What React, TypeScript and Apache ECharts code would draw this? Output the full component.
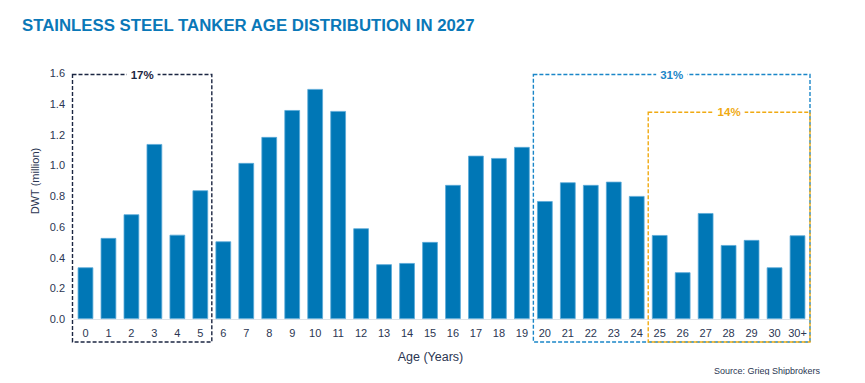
import React, { useEffect, useRef } from "react";
import * as echarts from "echarts";

const categories = ["0","1","2","3","4","5","6","7","8","9","10","11","12","13","14","15","16","17","18","19","20","21","22","23","24","25","26","27","28","29","30","30+"];
const dwtMillion = [0.336,0.527,0.681,1.138,0.548,0.837,0.505,1.015,1.184,1.359,1.496,1.353,0.590,0.356,0.364,0.501,0.872,1.062,1.047,1.119,0.767,0.889,0.872,0.893,0.800,0.546,0.304,0.689,0.481,0.514,0.336,0.544];
const yTicks = [0, 0.2, 0.4, 0.6, 0.8, 1.0, 1.2, 1.4, 1.6];

// annotation groups: [first category index, last category index, top value, label, color]
const groupStart = [0, 20, 25];
const groupEnd = [5, 31, 31];
const groupTop = [1.59, 1.59, 1.345];
const groupLabel = ["17%", "31%", "14%"];
const groupColor = ["#1b2642", "#1a86c8", "#f0aa12"];

const TEXT = "#2b3652";
const FONT = "'Liberation Sans', Arial, sans-serif";

export default function App() {
  const ref = useRef<HTMLDivElement>(null);
  useEffect(() => {
    const chart = echarts.init(ref.current!, null, { renderer: "svg" });
    const base: any = {
      animation: false,
      grid: { left: 74, right: 56, top: 73, bottom: 64 },
      title: {
        text: "STAINLESS STEEL TANKER AGE DISTRIBUTION IN 2027",
        left: 17,
        top: 12,
        textStyle: { color: "#0a78b8", fontSize: 16.8, fontWeight: "bold", fontFamily: FONT },
      },
      xAxis: {
        type: "category",
        data: categories,
        axisLine: { lineStyle: { color: "#dfe3e8", width: 1 } },
        axisTick: { show: false },
        axisLabel: { color: TEXT, fontSize: 11, fontFamily: FONT, margin: 8, interval: 0 },
        name: "Age (Years)",
        nameLocation: "middle",
        nameGap: 31,
        nameTextStyle: { color: TEXT, fontSize: 12.5, fontFamily: FONT, padding: [0, 22, 0, 0] },
      },
      yAxis: {
        type: "value",
        min: 0,
        max: 1.6,
        interval: 0.2,
        axisLine: { show: false },
        axisTick: { show: false },
        splitLine: { show: false },
        axisLabel: {
          color: TEXT,
          fontSize: 11,
          fontFamily: FONT,
          margin: 9,
          formatter: (v: number) => (yTicks.includes(Math.round(v * 10) / 10) ? v.toFixed(1) : ""),
        },
      },
      series: [
        {
          type: "bar",
          data: dwtMillion,
          barCategoryGap: "32%",
          itemStyle: { color: "#0077b6", borderColor: "#5aa9d8", borderWidth: 0.8 },
        },
      ],
    };
    chart.setOption(base);

    const graphics: any[] = [];
    // y-axis title
    graphics.push({
      type: "text",
      x: 35,
      y: 181,
      rotation: Math.PI / 2,
      style: { text: "DWT (million)", fill: TEXT, font: `11px ${FONT}`, align: "center", verticalAlign: "middle" },
    });
    // source
    graphics.push({
      type: "text",
      x: 820,
      y: 371,
      style: { text: "Source: Grieg Shipbrokers", fill: TEXT, font: `9px ${FONT}`, align: "right", verticalAlign: "middle" },
    });
    const half = (chart.convertToPixel({ xAxisIndex: 0 }, 1) as number) - (chart.convertToPixel({ xAxisIndex: 0 }, 0) as number);
    const baseY = chart.convertToPixel({ yAxisIndex: 0 }, 0) as number;
    for (let i = 0; i < groupStart.length; i++) {
      const x0 = (chart.convertToPixel({ xAxisIndex: 0 }, groupStart[i]) as number) - half / 2 - (i === 0 ? 1.5 : 0);
      const x1 = (chart.convertToPixel({ xAxisIndex: 0 }, groupEnd[i]) as number) + half / 2 + (i > 0 ? 1 : 0);
      const y0 = chart.convertToPixel({ yAxisIndex: 0 }, groupTop[i]) as number;
      const y1 = baseY + 23;
      graphics.push({
        type: "rect",
        shape: { x: x0, y: y0, width: x1 - x0, height: y1 - y0 },
        style: { fill: "none", stroke: groupColor[i], lineWidth: 1.4, lineDash: [4, 2] },
        z: 10,
      });
      graphics.push({
        type: "text",
        x: (x0 + x1) / 2,
        y: y0,
        style: {
          text: groupLabel[i],
          fill: groupColor[i],
          font: `bold 11.5px ${FONT}`,
          align: "center",
          verticalAlign: "middle",
          backgroundColor: "#ffffff",
          padding: [1, 4],
        },
        z: 11,
      });
    }
    chart.setOption({ graphic: graphics });
    return () => chart.dispose();
  }, []);
  return <div ref={ref} style={{ width: 865, height: 383, margin: -8 }} />;
}
